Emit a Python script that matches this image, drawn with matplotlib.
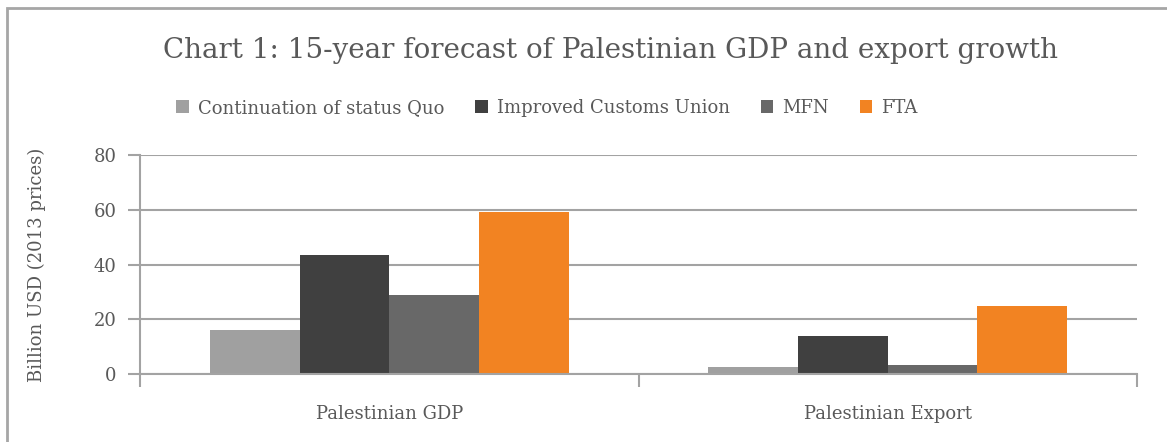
import matplotlib
matplotlib.use("Agg")
import matplotlib.pyplot as plt
from matplotlib.patches import Rectangle, Patch
import numpy as np

categories = ["Palestinian GDP", "Palestinian Export"]
series_names = ["Continuation of status Quo", "Improved Customs Union", "MFN", "FTA"]
status_quo = [16.0, 2.7]
customs_union = [43.3, 13.9]
mfn = [29.0, 3.2]
fta = [59.0, 24.7]
colors = ["#a0a0a0", "#404040", "#686868", "#f28322"]
y_ticks = [0, 20, 40, 60, 80]

plt.rcParams["font.family"] = ["DejaVu Serif"]
text_color = "#595959"
grid_color = "#a3a3a3"

W, H = 1167, 442
fig = plt.figure(figsize=(W / 100, H / 100), dpi=100)
ax = fig.add_axes([140 / W, 1 - 374 / H, (1137 - 140) / W, (374 - 155) / H])

x = np.arange(len(categories))
bw = 0.18
all_series = [status_quo, customs_union, mfn, fta]
for i, (vals, name, c) in enumerate(zip(all_series, series_names, colors)):
    ax.bar(x + (i - 1.5) * bw, vals, width=bw, color=c, label=name, zorder=3)

ax.set_xlim(-0.5, 1.5)
ax.set_ylim(0, 80)
ax.set_yticks(y_ticks)
ax.set_yticklabels([str(v) for v in y_ticks], fontsize=13, color=text_color)
ax.set_xticks(x)
ax.set_xticklabels(categories, fontsize=13, color=text_color)
ax.set_xticks([-0.5, 0.5, 1.5], minor=True)
ax.tick_params(axis="x", which="major", length=0, pad=22)
ax.tick_params(axis="x", which="minor", length=9, width=1.5, color=grid_color)
ax.tick_params(axis="y", length=9, width=1.5, color=grid_color, pad=8)

ax.grid(axis="y", color=grid_color, linewidth=1.5, zorder=0)
ax.set_axisbelow(True)
for s in ["top", "right"]:
    ax.spines[s].set_visible(False)
for s in ["left", "bottom"]:
    ax.spines[s].set_color(grid_color)
    ax.spines[s].set_linewidth(1.5)
ax.spines["bottom"].set_zorder(4)

ax.set_ylabel("Billion USD (2013 prices)", fontsize=13, color=text_color, labelpad=34)

fig.text(0.523, 1 - 50 / H, "Chart 1: 15-year forecast of Palestinian GDP and export growth",
         ha="center", va="center", fontsize=20, color=text_color)

handles = [Patch(facecolor=c, edgecolor="none") for c in colors]
fig.legend(handles, series_names, loc="center", bbox_to_anchor=(547 / W, 1 - 108 / H),
           ncol=4, frameon=False, fontsize=13, labelcolor=text_color,
           handlelength=0.7, handleheight=0.7, handletextpad=0.5, columnspacing=1.7)

fig.patches.append(Rectangle((7 / W, -0.1), 1.2, 1.1 - 8 / H, transform=fig.transFigure,
                             fill=False, edgecolor="#a6a6a6", linewidth=2))

fig.savefig("out.png", dpi=100)
